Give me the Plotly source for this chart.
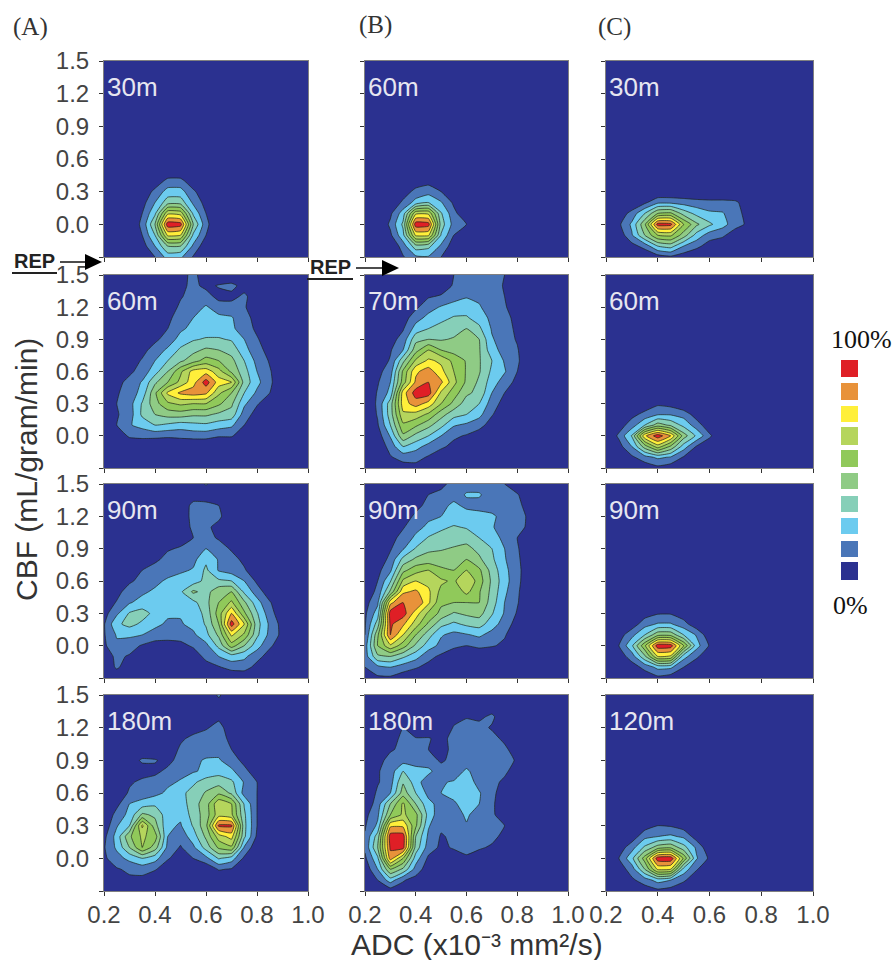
import plotly.graph_objects as go

X_VALUES = [0.20, 0.25, 0.30, 0.35, 0.40, 0.45, 0.50, 0.55, 0.60, 0.65, 0.70, 0.75, 0.80, 0.85, 0.90, 0.95, 1.00]
Y_VALUES = [1.5, 1.4, 1.3, 1.2, 1.1, 1.0, 0.9, 0.8, 0.7, 0.6, 0.5, 0.4, 0.3, 0.2, 0.1, 0.0, -0.1, -0.2, -0.3]
X_TICKS = [0.2, 0.4, 0.6, 0.8, 1.0]
Y_TICKS = [1.5, 1.2, 0.9, 0.6, 0.3, 0.0]
Y_END_TICK = [-0.3]

# Rows run from y=1.5 down to y=-0.3; leading all-zero rows and trailing zero columns are omitted.
A1 = [
    [0, 0, 0, 0, 3, 13, 13, 3],
    [0, 0, 0, 2, 13, 24, 24, 12, 2],
    [0, 0, 0, 6, 20, 36, 36, 18, 6],
    [0, 0, 0, 10, 28, 68, 66, 28, 10],
    [0, 0, 3, 12, 40, 96, 94, 40, 13],
    [0, 0, 0, 10, 30, 72, 70, 28, 10],
    [0, 0, 0, 5, 20, 40, 40, 18, 3],
    [0, 0, 0, 1, 10, 24, 22, 9, 1],
]
A2 = [
    [0, 0, 0, 0, 0, 0, 6, 13, 4],
    [0, 0, 0, 0, 0, 0, 7, 13, 7, 11, 13, 6],
    [0, 0, 0, 0, 0, 0, 9, 14, 15, 6, 7, 12, 4],
    [0, 0, 0, 0, 0, 4, 12, 16, 21, 16, 14, 11, 4],
    [0, 0, 0, 0, 0, 8, 14, 20, 23, 22, 21, 13, 7],
    [0, 0, 0, 0, 3, 10, 18, 23, 25, 25, 22, 15, 8],
    [0, 0, 0, 3, 8, 14, 24, 29, 31, 31, 29, 20, 11, 4],
    [0, 0, 2, 7, 14, 22, 32, 37, 42, 40, 36, 24, 13, 7],
    [0, 0, 5, 11, 20, 30, 38, 46, 54, 50, 43, 30, 17, 9],
    [0, 3, 8, 14, 26, 40, 58, 74, 76, 64, 48, 34, 20, 11, 2],
    [0, 7, 13, 21, 38, 50, 63, 76, 95, 75, 70, 36, 23, 12, 2],
    [0, 9, 14, 24, 48, 72, 82, 85, 82, 62, 50, 30, 18, 10],
    [0, 10, 16, 31, 46, 58, 62, 60, 60, 52, 42, 22, 11, 4],
    [0, 9, 15, 32, 40, 44, 45, 42, 42, 38, 36, 15, 6],
    [0, 10, 19, 24, 30, 28, 25, 27, 28, 25, 22, 10],
    [0, 6, 11, 12, 13, 12, 13, 14, 14, 11, 11, 4],
    [0, 0, 5, 4],
    [],
    [],
]
A3 = [
    [0, 0, 0, 0, 0, 0, 0, 2, 11, 2],
    [0, 0, 0, 0, 0, 0, 0, 5, 4],
    [0, 0, 0, 0, 0, 0, 3, 13, 13, 10, 2],
    [0, 0, 0, 0, 0, 0, 6, 12, 15, 12, 3],
    [0, 0, 0, 0, 0, 0, 7, 11, 12, 7],
    [0, 0, 0, 0, 0, 2, 6, 10, 13, 9, 3],
    [0, 0, 0, 0, 4, 9, 11, 15, 20, 14, 9, 2],
    [0, 0, 0, 3, 8, 13, 15, 17, 28, 19, 13, 8],
    [0, 0, 3, 10, 14, 15, 18, 21, 32, 19, 15, 11, 4],
    [0, 2, 8, 14, 17, 22, 25, 25, 33, 32, 30, 20, 8],
    [0, 6, 16, 18, 22, 24, 28, 42, 36, 47, 50, 28, 15, 4],
    [2, 11, 19, 24, 25, 24, 25, 27, 37, 50, 62, 42, 24, 11, 1],
    [6, 18, 31, 34, 27, 22, 21, 24, 33, 55, 80, 52, 31, 14, 3],
    [9, 28, 33, 28, 23, 18, 19, 23, 31, 50, 95, 70, 34, 18, 6],
    [9, 21, 22, 20, 15, 13, 13, 18, 27, 42, 72, 58, 32, 17, 7],
    [8, 18, 14, 9, 6, 7, 8, 11, 17, 33, 55, 40, 24, 12, 3],
    [5, 12, 9, 3, 0, 0, 0, 6, 12, 20, 25, 22, 14, 5],
    [0, 12, 3, 0, 0, 0, 0, 0, 7, 9, 14, 15, 6],
    [],
]
A4 = [
    [0, 0, 0, 0, 0, 0, 0, 0, 0, 12],
    [0, 0, 0, 0, 0, 0, 0, 0, 0, 4],
    [0, 0, 0, 0, 0, 0, 0, 0, 2, 8, 2],
    [0, 0, 0, 0, 0, 0, 0, 5, 9, 13, 5],
    [0, 0, 0, 0, 0, 0, 8, 13, 14, 15, 7],
    [0, 0, 0, 0, 0, 2, 12, 15, 16, 17, 10, 3],
    [0, 0, 3, 12, 11, 6, 15, 18, 21, 21, 15, 7],
    [0, 0, 0, 4, 7, 13, 17, 19, 22, 26, 22, 13, 4],
    [0, 0, 8, 13, 15, 18, 21, 28, 35, 36, 32, 19, 10, 1],
    [0, 0, 12, 13, 17, 22, 27, 34, 41, 48, 38, 16, 10, 1],
    [0, 7, 20, 25, 28, 30, 24, 36, 45, 68, 60, 29, 10],
    [0, 14, 23, 42, 38, 24, 22, 34, 45, 66, 62, 32, 10],
    [3, 19, 30, 72, 44, 22, 19, 31, 47, 92, 92, 33, 10],
    [7, 24, 48, 62, 55, 20, 14, 25, 42, 65, 74, 32, 8],
    [9, 22, 40, 60, 45, 17, 9, 18, 34, 52, 58, 19, 2],
    [8, 16, 23, 30, 24, 11, 5, 10, 17, 31, 25, 8],
    [2, 9, 12, 14, 11, 4, 0, 0, 2, 11, 9],
    [0, 2, 8, 7, 2],
    [],
]
B1 = [
    [0, 0, 0, 0, 4, 6],
    [0, 0, 0, 5, 13, 16, 10, 3],
    [0, 0, 2, 12, 24, 30, 21, 8],
    [0, 0, 8, 25, 68, 68, 31, 13, 2],
    [0, 0, 12, 32, 96, 94, 35, 16, 10, 1],
    [0, 0, 8, 27, 72, 72, 29, 10, 3],
    [0, 0, 0, 15, 36, 33, 18, 4],
    [0, 0, 0, 9, 18, 19, 10],
]
B2 = [
    [0, 0, 0, 0, 0, 0, 4, 10, 16, 18, 16, 10, 4],
    [0, 0, 0, 0, 0, 0, 5, 11, 16, 18, 15, 9, 3],
    [0, 0, 0, 0, 0, 9, 11, 16, 19, 18, 15, 10, 3],
    [0, 0, 0, 2, 8, 16, 21, 24, 26, 21, 15, 11, 5],
    [0, 0, 0, 5, 16, 23, 27, 31, 31, 26, 17, 13, 7],
    [0, 0, 2, 9, 24, 30, 34, 36, 40, 32, 19, 14, 8],
    [0, 0, 6, 14, 37, 40, 39, 41, 45, 40, 21, 15, 9],
    [0, 2, 9, 20, 46, 60, 50, 46, 48, 41, 24, 16, 11],
    [0, 4, 11, 37, 62, 72, 68, 57, 49, 41, 30, 19, 12],
    [0, 7, 15, 52, 78, 85, 73, 60, 49, 41, 28, 21, 10],
    [0, 9, 20, 55, 82, 90, 82, 63, 48, 38, 25, 15, 7],
    [0, 11, 23, 75, 95, 95, 68, 55, 42, 37, 20, 10, 3],
    [0, 12, 35, 75, 85, 76, 60, 47, 35, 30, 15, 6],
    [0, 11, 35, 68, 66, 58, 44, 34, 30, 23, 11, 2],
    [0, 9, 30, 58, 52, 43, 33, 21, 18, 14, 5],
    [0, 5, 21, 48, 37, 30, 20, 12, 9, 4],
    [0, 2, 14, 30, 24, 16, 12, 7, 2],
    [0, 0, 9, 14, 13, 9, 3],
    [0, 0, 0, 5, 7, 3],
]
B3 = [
    [0, 0, 0, 0, 0, 0, 7, 14, 16, 16, 15, 10, 3],
    [0, 0, 0, 0, 0, 10, 13, 15, 21, 21, 15, 13, 11, 2],
    [0, 0, 0, 0, 7, 13, 16, 23, 17, 17, 15, 14, 13, 5],
    [0, 0, 0, 5, 12, 18, 20, 24, 26, 23, 22, 16, 14, 8],
    [0, 0, 2, 9, 17, 22, 28, 31, 29, 26, 21, 15, 13, 8],
    [0, 0, 6, 14, 22, 31, 34, 35, 36, 30, 25, 17, 10, 3],
    [0, 0, 9, 19, 31, 38, 39, 41, 43, 37, 30, 20, 11, 3],
    [0, 3, 13, 33, 42, 44, 45, 47, 50, 42, 32, 21, 12, 3],
    [0, 7, 18, 47, 56, 60, 52, 50, 60, 52, 36, 23, 13, 3],
    [0, 10, 29, 62, 70, 67, 62, 58, 70, 55, 38, 24, 13, 2],
    [2, 13, 42, 78, 82, 72, 57, 52, 63, 51, 37, 22, 12],
    [6, 18, 77, 90, 90, 72, 52, 50, 50, 50, 35, 20, 11],
    [8, 25, 95, 95, 75, 58, 47, 39, 42, 44, 31, 19, 9],
    [9, 35, 92, 82, 65, 48, 33, 28, 32, 34, 25, 15, 6],
    [10, 48, 90, 70, 50, 34, 21, 17, 19, 22, 16, 11, 3],
    [15, 50, 68, 55, 38, 25, 17, 12, 10, 12, 11, 8],
    [15, 38, 40, 32, 24, 13, 8, 4, 2, 3],
    [10, 17, 20, 15, 11, 7, 3],
    [3, 8, 8, 4, 2],
]
B4 = [
    [],
    [0, 0, 0, 0, 0, 0, 0, 0, 0, 0, 4],
    [0, 0, 0, 0, 0, 0, 0, 6, 9, 8, 12, 3],
    [0, 0, 0, 10, 0, 0, 0, 11, 15, 13, 9, 3],
    [0, 0, 3, 14, 11, 11, 6, 14, 16, 15, 13, 8],
    [0, 3, 9, 12, 12, 10, 6, 13, 15, 15, 14, 12, 5],
    [0, 7, 13, 16, 15, 13, 9, 12, 14, 14, 13, 13, 9],
    [0, 9, 15, 30, 24, 23, 13, 14, 22, 14, 13, 12, 5],
    [0, 9, 16, 39, 25, 13, 19, 21, 26, 16, 13, 8],
    [0, 12, 20, 45, 30, 17, 20, 24, 27, 21, 12, 6],
    [2, 15, 40, 62, 40, 23, 16, 18, 26, 20, 12, 3],
    [7, 18, 50, 62, 53, 26, 13, 14, 22, 14, 11, 7],
    [9, 22, 78, 78, 52, 21, 12, 13, 19, 13, 12, 10],
    [11, 35, 95, 95, 40, 18, 9, 12, 14, 13, 12, 8],
    [12, 40, 92, 94, 36, 15, 8, 11, 12, 11, 9, 4],
    [8, 28, 85, 60, 25, 8, 0, 5, 9, 6, 3],
    [3, 20, 50, 38, 16, 4],
    [0, 10, 25, 11, 6],
    [0, 3, 4, 5],
]
C1 = [
    [0, 0, 0, 8, 18, 18, 16, 14, 13, 13, 12, 4],
    [0, 3, 14, 30, 50, 52, 36, 27, 22, 21, 13, 7],
    [0, 8, 22, 48, 94, 93, 60, 42, 32, 24, 14, 8],
    [0, 3, 19, 40, 60, 62, 45, 26, 15, 12, 4],
    [0, 0, 6, 14, 30, 34, 20, 13, 5, 2],
    [0, 0, 0, 0, 5, 8, 4],
]
C2 = [
    [0, 0, 0, 3, 8, 6],
    [0, 0, 7, 13, 19, 19, 16, 5],
    [0, 5, 15, 30, 45, 38, 27, 15, 3],
    [0, 12, 31, 78, 96, 80, 45, 28, 12],
    [0, 6, 20, 45, 65, 48, 25, 9, 2],
    [0, 0, 8, 16, 22, 19, 9],
    [0, 0, 0, 3, 7, 4],
]
C3 = [
    [0, 0, 0, 5, 9, 9, 4],
    [0, 0, 4, 16, 21, 21, 14, 3],
    [0, 5, 17, 30, 47, 47, 30, 19, 3],
    [0, 10, 28, 58, 96, 95, 60, 24, 9],
    [0, 4, 15, 38, 70, 68, 24, 12, 2],
    [0, 0, 5, 13, 23, 22, 10, 2],
    [0, 0, 0, 3, 7, 4],
]
C4 = [
    [0, 0, 0, 5, 10, 9, 5],
    [0, 0, 4, 17, 20, 22, 18, 5],
    [0, 4, 16, 32, 45, 48, 34, 18, 2],
    [0, 10, 27, 55, 96, 97, 58, 21, 8],
    [0, 4, 15, 40, 72, 70, 26, 11, 1],
    [0, 0, 8, 15, 24, 20, 12, 2],
    [0, 0, 0, 4, 7, 5],
]

COLUMNS = [
    ([A1, A2, A3, A4], ["30m", "60m", "90m", "180m"]),
    ([B1, B2, B3, B4], ["60m", "70m", "90m", "180m"]),
    ([C1, C2, C3, C4], ["30m", "60m", "90m", "120m"]),
]
COLORS = ["#2B3190", "#4A76B8", "#6CCBEF", "#86CFB8", "#8FCB85", "#90C95A",
          "#B5D55C", "#FFEF3A", "#E8923A", "#DF1F26"]

W, H = 893, 960
COL_PX = [(104, 308), (365, 568), (606, 813)]
ROW_PX = [(61, 257), (275, 468), (484, 678), (695, 891)]
SWATCH_PX = [(562, 580), (541, 557), (518, 534), (496, 512), (473, 489),
             (450, 467), (427, 445), (406, 422), (383, 400), (360, 377)]


def px(x):
    return x / W


def py(y):
    return 1 - y / H


def full_grid(rows):
    n, m = len(Y_VALUES), len(X_VALUES)
    rows = [[0] * m for _ in range(n - len(rows))] + [list(r) for r in rows]
    return [r + [0] * (m - len(r)) for r in rows]


fig = go.Figure()
SCALE = [[i / 9, c] for i, c in enumerate(COLORS)]
annotations, shapes = [], []
layout = {}
k = 0
for c, (panels, labels) in enumerate(COLUMNS):
    for r, (rows, label) in enumerate(zip(panels, labels)):
        k += 1
        suffix = "" if k == 1 else str(k)
        fig.add_trace(go.Contour(
            x=X_VALUES, y=Y_VALUES, z=full_grid(rows),
            xaxis="x" + suffix, yaxis="y" + suffix,
            zmin=0, zmax=100, showscale=False, colorscale=SCALE, hoverinfo="skip",
            contours=dict(start=10, end=90, size=10, coloring="fill"),
            line=dict(color="#1c2418", width=0.7, smoothing=0.4),
        ))
        left, right = COL_PX[c]
        top, bottom = ROW_PX[r]
        layout["xaxis" + suffix] = dict(
            domain=[px(left), px(right)], anchor="y" + suffix, range=[0.2, 1.0],
            tickmode="array", tickvals=X_TICKS, ticktext=[f"{v:.1f}" for v in X_TICKS],
            showticklabels=(r == 3), ticklabelstandoff=-2,
            ticks="outside", ticklen=4, tickcolor="#333333", showgrid=False, zeroline=False,
            showline=True, linecolor="#808080", linewidth=1, mirror=True,
            tickfont=dict(family="Liberation Sans", size=24, color="#444444"),
        )
        layout["yaxis" + suffix] = dict(
            domain=[py(bottom), py(top)], anchor="x" + suffix, range=[-0.3, 1.5],
            tickmode="array", tickvals=Y_TICKS, ticktext=[f"{v:.1f}" for v in Y_TICKS],
            showticklabels=(c == 0), ticklabelstandoff=5,
            minor=dict(tickmode="array", tickvals=Y_END_TICK, ticks="outside", ticklen=4, tickcolor="#333333", showgrid=False),
            ticks="outside", ticklen=4, tickcolor="#333333", showgrid=False, zeroline=False,
            showline=True, linecolor="#808080", linewidth=1, mirror=True,
            tickfont=dict(family="Liberation Sans", size=24, color="#444444"),
        )
        annotations.append(dict(
            xref="paper", yref="paper", x=px(left + 1), y=py(top + 26), text=label, showarrow=False,
            xanchor="left", yanchor="middle",
            font=dict(family="Liberation Sans", size=26, color="#E6E6F0"),
        ))


def note(x, y, text, size, family="Liberation Sans", color="#333333", angle=0, anchor="center", bold=False):
    annotations.append(dict(
        xref="paper", yref="paper", x=px(x), y=py(y), text=f"<b>{text}</b>" if bold else text,
        showarrow=False, xanchor=anchor, yanchor="middle", textangle=angle,
        font=dict(family=family, size=size, color=color),
    ))


SERIF = "Liberation Serif"
note(11, 27, "(A)", 25, SERIF, anchor="left")
note(357, 25, "(B)", 25, SERIF, anchor="left")
note(596, 27, "(C)", 25, SERIF, anchor="left")
note(27, 470, "CBF (mL/gram/min)", 30, angle=-90)
note(477, 944, "ADC (x10⁻³ mm²/s)", 30)
note(861, 339, "100%", 26, SERIF, "#111111")
note(850, 605, "0%", 26, SERIF, "#111111")
note(34, 261, "REP", 20, color="#222222", bold=True)
note(330, 267, "REP", 20, color="#222222", bold=True)

for (y0, y1), color in zip(SWATCH_PX, COLORS):
    shapes.append(dict(type="rect", xref="paper", yref="paper", x0=px(841), x1=px(858), y0=py(y1), y1=py(y0),
                       fillcolor=color, line=dict(width=0)))


def rep_arrow(x0, x1, y, ux0, ux1, uy):
    shapes.append(dict(type="line", xref="paper", yref="paper", x0=px(ux0), x1=px(ux1), y0=py(uy), y1=py(uy),
                       line=dict(color="#222222", width=2)))
    shapes.append(dict(type="line", xref="paper", yref="paper", x0=px(x0), x1=px(x1 - 10), y0=py(y), y1=py(y),
                       line=dict(color="#111111", width=1.5)))
    head = f"M {px(x1 - 17)} {py(y - 8)} L {px(x1)} {py(y)} L {px(x1 - 17)} {py(y + 8)} Z"
    shapes.append(dict(type="path", xref="paper", yref="paper", path=head, fillcolor="#000000", line=dict(width=0)))


rep_arrow(60, 102, 262, 12, 57, 273)
rep_arrow(356, 399, 268, 307, 353, 279)

fig.update_layout(
    width=W, height=H, autosize=False, margin=dict(l=0, r=0, t=0, b=0, pad=0, autoexpand=False),
    paper_bgcolor="white", plot_bgcolor=COLORS[0], showlegend=False,
    annotations=annotations, shapes=shapes, **layout,
)
fig.write_html("out.html", config={"displayModeBar": False},
               post_script="document.body.style.margin='0';document.body.style.overflow='hidden';")
